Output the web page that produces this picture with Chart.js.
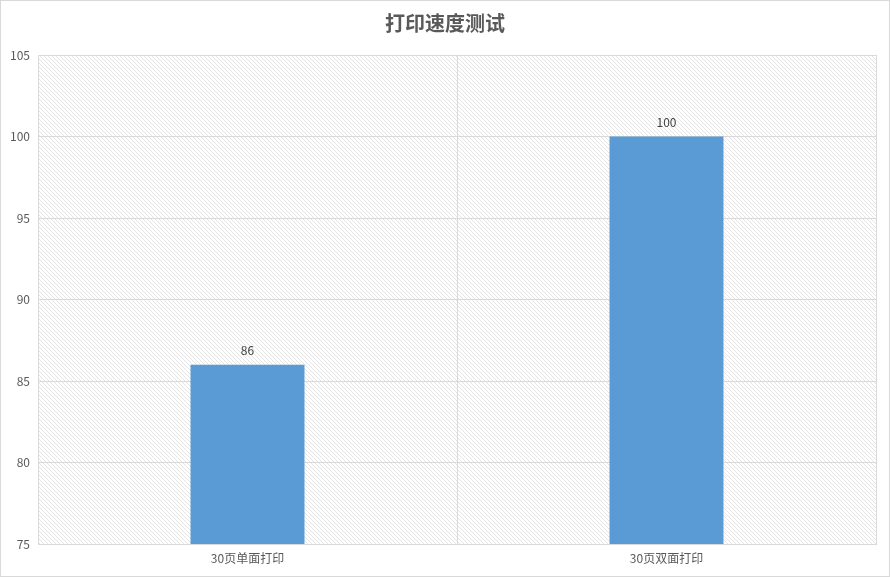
<!DOCTYPE html>
<html>
<head>
<meta charset="utf-8">
<script src="https://cdn.jsdelivr.net/npm/chart.js@4/dist/chart.umd.min.js"></script>
<style>
  html, body { margin: 0; padding: 0; background: #fff; }
  #wrap { width: 890px; height: 577px; position: relative; }
</style>
</head>
<body>
<div id="wrap"><canvas id="chart" width="890" height="577"></canvas></div>
<script>
const categories = ["30页单面打印", "30页双面打印"];
const speedValues = [86, 100];
const yTicks = [75, 80, 85, 90, 95, 100, 105];

const FONT = "'Noto Sans CJK SC', 'Noto Sans', sans-serif";
const GRID = "#d9d9d9";

// diagonal hatch tile for the plot background
function makeHatch(ctx) {
  const c = document.createElement("canvas");
  c.width = 4; c.height = 4;
  const g = c.getContext("2d");
  g.fillStyle = "#fff";
  g.fillRect(0, 0, 4, 4);
  g.strokeStyle = "#e4e4e4";
  g.lineWidth = 1;
  g.beginPath();
  g.moveTo(-1, -1); g.lineTo(5, 5);
  g.moveTo(-1, 3); g.lineTo(1, 5);
  g.moveTo(3, -1); g.lineTo(5, 1);
  g.stroke();
  return ctx.createPattern(c, "repeat");
}

const bgPlugin = {
  id: "bg",
  beforeDraw(chart) {
    const { ctx, chartArea: a, width, height } = chart;
    ctx.save();
    ctx.fillStyle = "#fff";
    ctx.fillRect(0, 0, width, height);
    ctx.strokeStyle = GRID;
    ctx.lineWidth = 1;
    ctx.strokeRect(0.5, 0.5, width - 1, height - 1);
    ctx.fillStyle = makeHatch(ctx);
    ctx.fillRect(a.left, a.top, a.right - a.left, a.bottom - a.top);
    // title
    ctx.fillStyle = "#595959";
    ctx.font = "bold 20px " + FONT;
    ctx.textAlign = "center";
    ctx.textBaseline = "middle";
    ctx.fillText("打印速度测试", width / 2, 23);
    ctx.restore();
  }
};

const labelPlugin = {
  id: "valueLabels",
  afterDatasetsDraw(chart) {
    const { ctx } = chart;
    const meta = chart.getDatasetMeta(0);
    ctx.save();
    ctx.fillStyle = "#404040";
    ctx.font = "12px " + FONT;
    ctx.textAlign = "center";
    ctx.textBaseline = "bottom";
    meta.data.forEach((bar, i) => {
      ctx.fillText(speedValues[i], bar.x, bar.y - 8);
    });
    ctx.restore();
  }
};

new Chart(document.getElementById("chart"), {
  type: "bar",
  data: {
    labels: categories,
    datasets: [{
      data: speedValues,
      backgroundColor: "#5b9bd5",
      borderColor: "#5b9bd5",
      borderWidth: 0,
      barPercentage: 0.272,
      categoryPercentage: 1
    }]
  },
  options: {
    responsive: false,
    animation: false,
    layout: { padding: { top: 55, right: 14, left: 0, bottom: 0 } },
    plugins: {
      legend: { display: false },
      title: { display: false },
      tooltip: { enabled: false }
    },
    scales: {
      x: {
        offset: true,
        grid: { color: GRID, offset: true, drawTicks: false },
        border: { color: GRID },
        ticks: { color: "#595959", font: { family: FONT, size: 12 }, padding: 7 },
        afterFit(s) { s.height = 33; }
      },
      y: {
        min: 75,
        max: 105,
        afterBuildTicks(s) { s.ticks = yTicks.map(v => ({ value: v })); },
        grid: { color: GRID, drawTicks: false },
        border: { color: GRID },
        ticks: { color: "#595959", font: { family: FONT, size: 12 }, padding: 8 },
        afterFit(s) { s.width = 38; }
      }
    }
  },
  plugins: [bgPlugin, labelPlugin]
});
</script>
</body>
</html>
